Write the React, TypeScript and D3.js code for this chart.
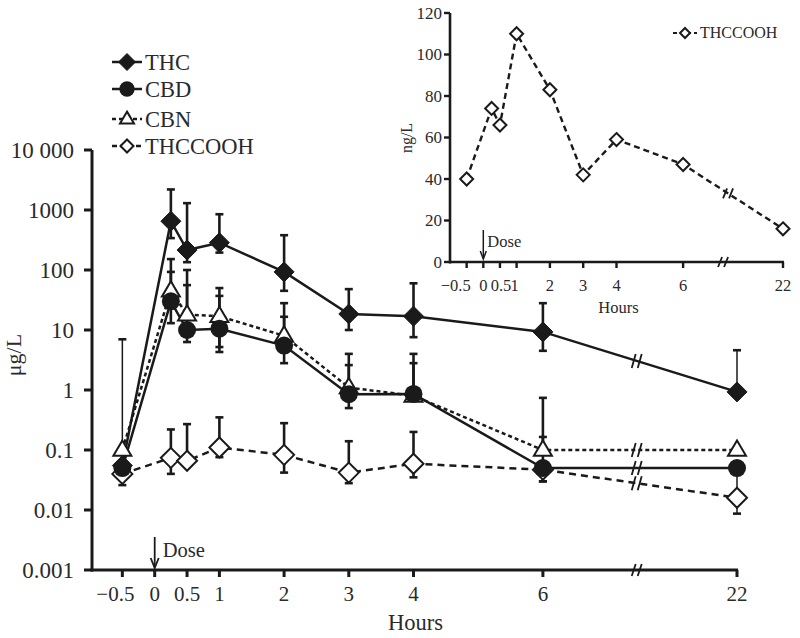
import React from "react";
import * as d3 from "d3";

const hours = [-0.5, 0.25, 0.5, 1, 2, 3, 4, 6, 22];
const xTickValues = [-0.5, 0, 0.5, 1, 2, 3, 4, 6, 22];
const xTickLabels = ["\u22120.5", "0", "0.5", "1", "2", "3", "4", "6", "22"];
const insetXTickLabels = ["\u22120.5", "0", "0.5", "1", "2", "3", "4", "6", "22"];
const yTickValues = [0.001, 0.01, 0.1, 1, 10, 100, 1000, 10000];
const yTickLabels = ["0.001", "0.01", "0.1", "1", "10", "100", "1000", "10 000"];
const insetYTicks = [0, 20, 40, 60, 80, 100, 120];

const thc = [0.055, 650, 215, 285, 93, 18.5, 17, 9.3, 0.93];
const thcHi = [7, 2200, 1300, 850, 380, 48, 60, 28, 4.6];
const thcLo = [null, 340, 135, 195, 45, 10, 7.6, 4.5, null];

const cbd = [0.05, 30, 10, 10.5, 5.5, 0.85, 0.86, 0.05, 0.05];
const cbdHi = [null, 93, 56, 37, 16.6, 2.6, 2.8, 0.165, null];
const cbdLo = [null, 13, 6.3, 4.3, 2.8, 0.5, null, 0.03, null];

const cbn = [0.1, 45, 18, 17, 8, 1.1, 0.8, 0.1, 0.1];
const cbnHi = [null, 152, 100, 50, 28, 4.0, 4.0, 0.74, null];
const cbnLo = [null, null, null, 5.2, null, null, null, null, null];

const thccooh = [0.04, 0.074, 0.066, 0.11, 0.083, 0.042, 0.059, 0.047, 0.016];
const thccoohHi = [null, 0.22, 0.27, 0.35, 0.28, 0.14, 0.2, null, 0.05];
const thccoohLo = [0.026, 0.04, null, 0.076, 0.042, 0.028, 0.035, 0.03, 0.0087];

const insetThccooh = [40, 74, 66, 110, 83, 42, 59, 47, 16];

const legendNames = ["THC", "CBD", "CBN", "THCCOOH"];

const FONT = "'Liberation Serif', 'Times New Roman', serif";
const INK = "#1a1a1a";
const TXT = "#2a2a2a";

const pos = (h: number) => (h === 22 ? 9 : h);
const BREAK = 7.45;

type Series = {
  name: string;
  vals: number[];
  hi: (number | null)[];
  lo: (number | null)[];
  dash: string | null;
  marker: "diamond" | "circle" | "triangle" | "odiamond";
};

const series: Series[] = [
  { name: "THCCOOH", vals: thccooh, hi: thccoohHi, lo: thccoohLo, dash: "7,5", marker: "odiamond" },
  { name: "CBN", vals: cbn, hi: cbnHi, lo: cbnLo, dash: "4,3", marker: "triangle" },
  { name: "CBD", vals: cbd, hi: cbdHi, lo: cbdLo, dash: null, marker: "circle" },
  { name: "THC", vals: thc, hi: thcHi, lo: thcLo, dash: null, marker: "diamond" },
];

function Marker({ type, x, y, s }: { type: string; x: number; y: number; s: number }) {
  if (type === "diamond")
    return <path d={`M${x},${y - s}L${x + s},${y}L${x},${y + s}L${x - s},${y}Z`} fill={INK} stroke={INK} strokeWidth={1} />;
  if (type === "odiamond")
    return <path d={`M${x},${y - s}L${x + s},${y}L${x},${y + s}L${x - s},${y}Z`} fill="#fff" stroke={INK} strokeWidth={2} />;
  if (type === "circle") return <circle cx={x} cy={y} r={s * 0.9} fill={INK} />;
  const h = s * 1.7;
  return (
    <path
      d={`M${x},${y - h * 0.62}L${x + s},${y + h * 0.38}L${x - s},${y + h * 0.38}Z`}
      fill="#fff"
      stroke={INK}
      strokeWidth={2}
    />
  );
}

function BreakMark({ x, y, len }: { x: number; y: number; len: number }) {
  return (
    <g stroke={INK} strokeWidth={1.8}>
      <line x1={x - 5} y1={y + len} x2={x - 1} y2={y - len} />
      <line x1={x + 1} y1={y + len} x2={x + 5} y2={y - len} />
    </g>
  );
}

export default function App() {
  const x = d3.scaleLinear().domain([-1, 9]).range([90, 737]);
  const y = d3.scaleLog().domain([0.001, 10000]).range([570, 150]);
  const xi = d3.scaleLinear().domain([-1, 9]).range([450, 783]);
  const yi = d3.scaleLinear().domain([0, 120]).range([262, 13]);

  const line = d3
    .line<number>()
    .x((_, i) => x(pos(hours[i])))
    .y((v) => y(v));
  const lineInset = d3
    .line<number>()
    .x((_, i) => xi(pos(hours[i])))
    .y((v) => yi(v));

  const breakY = (vals: number[], ys: (v: number) => number, xs: (v: number) => number, at: number) => {
    const x0 = xs(6), x1 = xs(9), y0 = ys(vals[7]), y1 = ys(vals[8]);
    const bx = xs(at);
    return { bx, by: y0 + ((bx - x0) / (x1 - x0)) * (y1 - y0) };
  };

  const legendRows = [
    { name: "THC", marker: "diamond", dash: null },
    { name: "CBD", marker: "circle", dash: null },
    { name: "CBN", marker: "triangle", dash: "4,3" },
    { name: "THCCOOH", marker: "odiamond", dash: "5,3" },
  ];
  const legendY = [62, 89, 119, 146];

  return (
    <svg width={800} height={638} style={{ position: "absolute", left: 0, top: 0 }} fontFamily={FONT}>
      <rect width={800} height={638} fill="#fff" />
      {/* Main axes */}
      <line x1={x(-1) + 2} y1={y(10000)} x2={x(-1) + 2} y2={y(0.001) + 1.5} stroke={INK} strokeWidth={3} />
      <line x1={x(-1) + 0.5} y1={y(0.001)} x2={x(9) + 1} y2={y(0.001)} stroke={INK} strokeWidth={3} />
      {yTickValues.map((v, i) => (
        <g key={"yt" + i}>
          <line x1={x(-1) - 6} x2={x(-1) + 2} y1={y(v)} y2={y(v)} stroke={INK} strokeWidth={3} />
          <text x={x(-1) - 16} y={y(v) + 7.5} textAnchor="end" fontSize={23} fill={TXT}>
            {yTickLabels[i]}
          </text>
        </g>
      ))}
      {xTickValues.map((v, i) => (
        <g key={"xt" + i}>
          <line x1={x(pos(v))} x2={x(pos(v))} y1={y(0.001)} y2={y(0.001) + 7} stroke={INK} strokeWidth={3} />
          <text x={x(pos(v)) + (v === -0.5 ? -7 : 0)} y={601} textAnchor="middle" fontSize={21} fill={TXT}>
            {xTickLabels[i]}
          </text>
        </g>
      ))}
      <BreakMark x={x(BREAK)} y={y(0.001)} len={6} />
      <text x={x(4) + 2} y={630} textAnchor="middle" fontSize={22.5} fill={TXT}>
        Hours
      </text>
      <text transform={`translate(21,355) rotate(-90)`} textAnchor="middle" fontSize={22} fill={TXT}>
        μg/L
      </text>
      {/* Dose arrow */}
      <line x1={x(0)} x2={x(0)} y1={537} y2={566} stroke={INK} strokeWidth={1.8} />
      <path d={`M${x(0) - 4},${558}L${x(0)},${568}L${x(0) + 4},${558}`} fill="none" stroke={INK} strokeWidth={1.8} />
      <text x={x(0) + 8} y={557} fontSize={20.5} fill={TXT}>
        Dose
      </text>

      {/* error bars + lines */}
      {series.map((s) => (
        <g key={"s" + s.name}>
          {s.vals.map((v, i) => {
            const cx = x(pos(hours[i]));
            const thin = hours[i] === -0.5 || hours[i] === 22;
            const sw = thin ? 1.5 : 2.6;
            const hi = s.hi[i];
            const lo = s.lo[i];
            return (
              <g key={"e" + i} stroke={INK} strokeWidth={sw}>
                {hi != null && (
                  <>
                    <line x1={cx} x2={cx} y1={y(v)} y2={y(hi)} />
                    <line x1={cx - 4} x2={cx + 4} y1={y(hi)} y2={y(hi)} strokeWidth={2.6} />
                  </>
                )}
                {lo != null && (
                  <>
                    <line x1={cx} x2={cx} y1={y(v)} y2={y(lo)} />
                    <line x1={cx - 4} x2={cx + 4} y1={y(lo)} y2={y(lo)} strokeWidth={2.6} />
                  </>
                )}
              </g>
            );
          })}
          <path d={line(s.vals) || ""} fill="none" stroke={INK} strokeWidth={2.5} strokeDasharray={s.dash || undefined} />
          {(() => {
            const b = breakY(s.vals, y, x, BREAK);
            return <BreakMark x={b.bx} y={b.by} len={7} />;
          })()}
        </g>
      ))}
      {/* markers */}
      {series.map((s) => (
        <g key={"m" + s.name}>
          {s.vals.map((v, i) => (
            <Marker key={i} type={s.marker} x={x(pos(hours[i]))} y={y(v)} s={s.marker === "circle" ? 10 : s.marker === "triangle" ? 9 : 10} />
          ))}
        </g>
      ))}

      {/* Legend */}
      {legendRows.map((r, i) => (
        <g key={"lg" + i}>
          <line x1={112} x2={142} y1={legendY[i]} y2={legendY[i]} stroke={INK} strokeWidth={2.5} strokeDasharray={r.dash || undefined} />
          <Marker type={r.marker} x={127} y={legendY[i]} s={r.marker === "odiamond" ? 6.5 : r.marker === "triangle" ? 7 : 8.5} />
          <text x={145} y={legendY[i] + 7.5} fontSize={22.5} fill={TXT}>
            {legendNames[i]}
          </text>
        </g>
      ))}

      {/* Inset */}
      <line x1={xi(-1)} y1={yi(120)} x2={xi(-1)} y2={yi(0) + 1.5} stroke={INK} strokeWidth={2.6} />
      <line x1={xi(-1)} y1={yi(0)} x2={xi(9) + 1} y2={yi(0)} stroke={INK} strokeWidth={2.6} />
      {insetYTicks.map((v) => (
        <g key={"iy" + v}>
          <line x1={xi(-1) - 6} x2={xi(-1)} y1={yi(v)} y2={yi(v)} stroke={INK} strokeWidth={2.4} />
          <text x={xi(-1) - 8} y={yi(v) + 5.5} textAnchor="end" fontSize={17} fill={TXT}>
            {v}
          </text>
        </g>
      ))}
      {xTickValues.map((v, i) => (
        <g key={"ix" + i}>
          <line x1={xi(pos(v))} x2={xi(pos(v))} y1={yi(0)} y2={yi(0) + 6} stroke={INK} strokeWidth={2.4} />
          <text
            x={xi(pos(v)) + (v === -0.5 ? 4 : v === 1 ? -2 : v === 0.5 ? 1 : 0)}
            y={291}
            textAnchor={v === -0.5 ? "end" : "middle"}
            fontSize={16.5}
            fill={TXT}
          >
            {insetXTickLabels[i]}
          </text>
        </g>
      ))}
      <BreakMark x={xi(7.2)} y={yi(0)} len={5} />
      <text x={xi(4) + 2} y={313} textAnchor="middle" fontSize={16.5} fill={TXT}>
        Hours
      </text>
      <text transform={`translate(412,138) rotate(-90)`} textAnchor="middle" fontSize={16} fill={TXT}>
        ng/L
      </text>
      <line x1={xi(0)} x2={xi(0)} y1={230} y2={258} stroke={INK} strokeWidth={1.5} />
      <path d={`M${xi(0) - 3},${251}L${xi(0)},${259}L${xi(0) + 3},${251}`} fill="none" stroke={INK} strokeWidth={1.5} />
      <text x={xi(0) + 4} y={247} fontSize={16.5} fill={TXT}>
        Dose
      </text>
      <path d={lineInset(insetThccooh) || ""} fill="none" stroke={INK} strokeWidth={2.4} strokeDasharray="6,4" />
      {(() => {
        const b = breakY(insetThccooh, yi, xi, 7.35);
        return <BreakMark x={b.bx} y={b.by} len={5} />;
      })()}
      {insetThccooh.map((v, i) => (
        <Marker key={"im" + i} type="odiamond" x={xi(pos(hours[i]))} y={yi(v)} s={6.5} />
      ))}
      <line x1={673} x2={697} y1={33} y2={33} stroke={INK} strokeWidth={2.2} strokeDasharray="4,3" />
      <Marker type="odiamond" x={685} y={33} s={5} />
      <text x={700} y={38} fontSize={16} fill={TXT}>
        THCCOOH
      </text>
    </svg>
  );
}
